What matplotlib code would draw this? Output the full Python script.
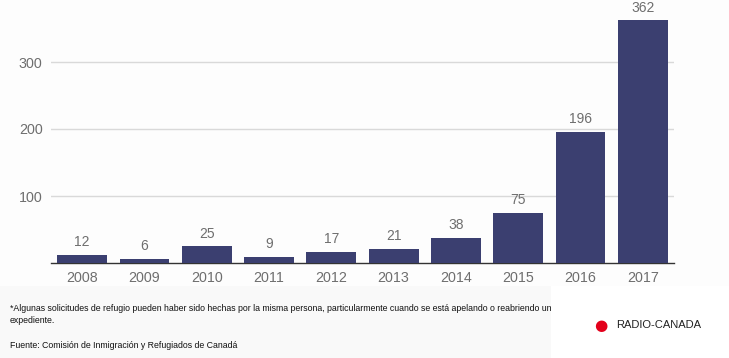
import matplotlib
matplotlib.use("Agg")
import matplotlib.pyplot as plt
from matplotlib.patches import Rectangle

years = ["2008", "2009", "2010", "2011", "2012", "2013", "2014", "2015", "2016", "2017"]
values = [12, 6, 25, 9, 17, 21, 38, 75, 196, 362]
yticks = [100, 200, 300]

note = ("*Algunas solicitudes de refugio pueden haber sido hechas por la misma persona, "
        "particularmente cuando se está apelando o reabriendo un\nexpediente.")
source = "Fuente: Comisión de Inmigración y Refugiados de Canadá"

plt.rcParams["font.family"] = ["Liberation Sans", "DejaVu Sans"]

W, H = 729, 358
fig = plt.figure(figsize=(W / 100, H / 100), dpi=100)
fig.patch.set_facecolor("#fdfdfd")

# footer background
fig.add_artist(Rectangle((0, 0), 551 / W, (H - 286) / H, transform=fig.transFigure,
                         facecolor="#f9f9f9", edgecolor="none", zorder=0))
fig.add_artist(Rectangle((551 / W, 0), 1 - 551 / W, (H - 286) / H, transform=fig.transFigure,
                         facecolor="#ffffff", edgecolor="none", zorder=0))

ax_left, ax_right = 51, 674
base_y = 263
ymax = 380
px_per = 0.67
top_y = base_y - ymax * px_per
ax = fig.add_axes([ax_left / W, 1 - base_y / H, (ax_right - ax_left) / W, (base_y - top_y) / H])
ax.set_facecolor("none")

x = list(range(len(years)))
ax.bar(x, values, width=0.8, color="#3b3f70", zorder=3)
for xi, v in zip(x, values):
    ax.annotate(str(v), (xi, v), xytext=(0, 4), textcoords="offset points",
                ha="center", va="bottom", fontsize=10, color="#6e6e6e")

ax.set_xlim(-0.5, len(years) - 0.5)
ax.set_ylim(0, ymax)
ax.set_yticks(yticks)
ax.set_yticklabels([str(t) for t in yticks])
ax.set_xticks(x)
ax.set_xticklabels(years)
ax.tick_params(axis="both", length=0, labelsize=10.3, labelcolor="#6e6e6e")
ax.tick_params(axis="y", pad=6)
ax.tick_params(axis="x", pad=6)
ax.grid(axis="y", color="#d9d9d9", linewidth=1, zorder=0)
for s in ["top", "right", "left"]:
    ax.spines[s].set_visible(False)
ax.spines["bottom"].set_color("#333333")
ax.spines["bottom"].set_linewidth(1)

fig.text(10 / W, 1 - 304 / H, note, fontsize=6.35, color="#111111", va="top", ha="left",
         linespacing=1.45)
fig.text(10 / W, 1 - 345 / H, source, fontsize=6.35, color="#111111", va="center", ha="left")

# logo
fig.text(601 / W, 1 - 325 / H, "●", fontsize=11, color="#e3001b", ha="center", va="center",
         family="DejaVu Sans")
fig.text(616 / W, 1 - 325 / H, "RADIO-CANADA", fontsize=8, color="#222222", ha="left",
         va="center")

fig.savefig("out.png", dpi=100, facecolor=fig.get_facecolor())
